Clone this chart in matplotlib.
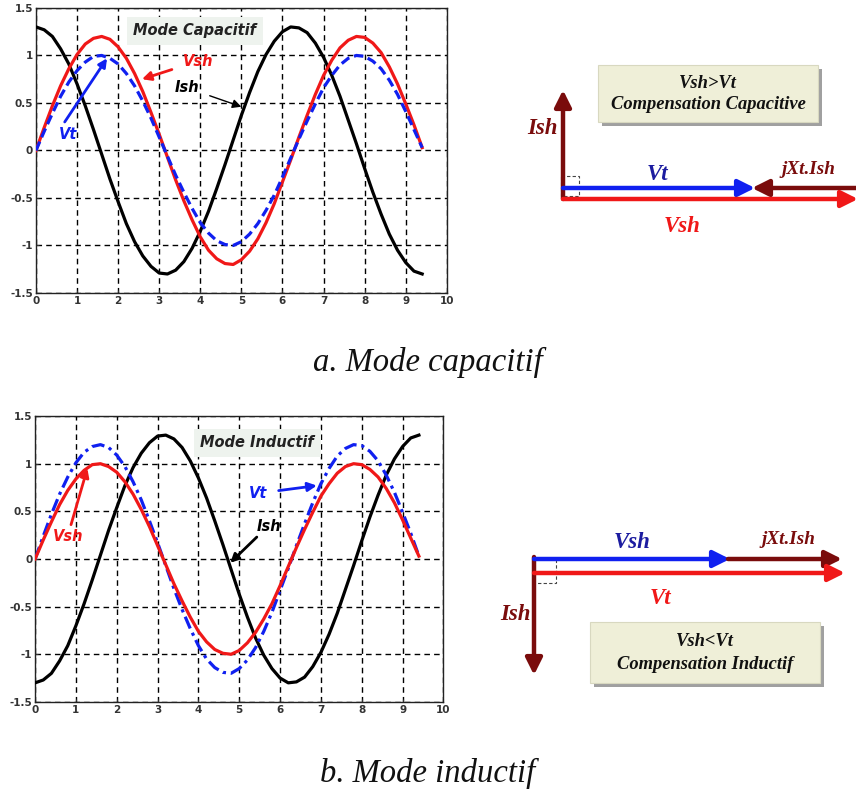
import matplotlib
matplotlib.use("Agg")
import matplotlib.pyplot as plt
from matplotlib.patches import Rectangle

# ---------------- data ----------------
t = [0.0, 0.2, 0.4, 0.6, 0.8, 1.0, 1.2, 1.4,
     1.6, 1.8, 2.0, 2.2, 2.4, 2.6, 2.8, 3.0,
     3.2, 3.4, 3.6, 3.8, 4.0, 4.2, 4.4, 4.6,
     4.8, 5.0, 5.2, 5.4, 5.6, 5.8, 6.0, 6.2,
     6.4, 6.6, 6.8, 7.0, 7.2, 7.4, 7.6, 7.8,
     8.0, 8.2, 8.4, 8.6, 8.8, 9.0, 9.2, 9.4]

# a. Mode capacitif
vsh_cap = [0, 0.24, 0.47, 0.68, 0.86, 1.01, 1.12, 1.18,
           1.2, 1.17, 1.09, 0.97, 0.81, 0.62, 0.40, 0.17,
           -0.07, -0.31, -0.53, -0.73, -0.91, -1.05, -1.14, -1.19,
           -1.2, -1.15, -1.06, -0.93, -0.76, -0.56, -0.33, -0.10,
           0.14, 0.37, 0.59, 0.79, 0.95, 1.08, 1.16, 1.2,
           1.19, 1.13, 1.03, 0.88, 0.70, 0.49, 0.27, 0.03]
vt_cap = [0, 0.20, 0.39, 0.57, 0.72, 0.84, 0.93, 0.99,
          1.0, 0.97, 0.91, 0.81, 0.68, 0.52, 0.34, 0.14,
          -0.06, -0.26, -0.44, -0.61, -0.76, -0.87, -0.95, -0.99,
          -1.0, -0.96, -0.88, -0.77, -0.63, -0.47, -0.28, -0.08,
          0.12, 0.31, 0.49, 0.66, 0.79, 0.90, 0.97, 1.0,
          0.99, 0.94, 0.86, 0.74, 0.59, 0.41, 0.22, 0.03]
ish_cap = [1.3, 1.27, 1.20, 1.07, 0.91, 0.70, 0.47, 0.22,
           -0.04, -0.30, -0.54, -0.77, -0.96, -1.11, -1.22, -1.29,
           -1.30, -1.26, -1.17, -1.03, -0.85, -0.64, -0.40, -0.15,
           0.11, 0.37, 0.61, 0.83, 1.01, 1.15, 1.25, 1.30,
           1.29, 1.24, 1.13, 0.98, 0.79, 0.57, 0.32, 0.07,
           -0.19, -0.44, -0.67, -0.88, -1.05, -1.18, -1.27, -1.30]

# b. Mode inductif
vt_ind = [0, 0.24, 0.47, 0.68, 0.86, 1.01, 1.12, 1.18,
          1.2, 1.17, 1.09, 0.97, 0.81, 0.62, 0.40, 0.17,
          -0.07, -0.31, -0.53, -0.73, -0.91, -1.05, -1.14, -1.19,
          -1.2, -1.15, -1.06, -0.93, -0.76, -0.56, -0.33, -0.10,
          0.14, 0.37, 0.59, 0.79, 0.95, 1.08, 1.16, 1.2,
          1.19, 1.13, 1.03, 0.88, 0.70, 0.49, 0.27, 0.03]
vsh_ind = [0, 0.20, 0.39, 0.57, 0.72, 0.84, 0.93, 0.99,
           1.0, 0.97, 0.91, 0.81, 0.68, 0.52, 0.34, 0.14,
           -0.06, -0.26, -0.44, -0.61, -0.76, -0.87, -0.95, -0.99,
           -1.0, -0.96, -0.88, -0.77, -0.63, -0.47, -0.28, -0.08,
           0.12, 0.31, 0.49, 0.66, 0.79, 0.90, 0.97, 1.0,
           0.99, 0.94, 0.86, 0.74, 0.59, 0.41, 0.22, 0.03]
ish_ind = [-1.3, -1.27, -1.20, -1.07, -0.91, -0.70, -0.47, -0.22,
           0.04, 0.30, 0.54, 0.77, 0.96, 1.11, 1.22, 1.29,
           1.30, 1.26, 1.17, 1.03, 0.85, 0.64, 0.40, 0.15,
           -0.11, -0.37, -0.61, -0.83, -1.01, -1.15, -1.25, -1.30,
           -1.29, -1.24, -1.13, -0.98, -0.79, -0.57, -0.32, -0.07,
           0.19, 0.44, 0.67, 0.88, 1.05, 1.18, 1.27, 1.30]

x_ticks = [0, 1, 2, 3, 4, 5, 6, 7, 8, 9, 10]
y_ticks = [-1.5, -1, -0.5, 0, 0.5, 1, 1.5]
y_ticklabels = ["-1.5", "-1", "-0.5", "0", "0.5", "1", "1.5"]

RED = "#f01818"
BLUE = "#1020f0"
DKRED = "#7a0c0c"
DKBLUE = "#1c1ca0"

fig = plt.figure(figsize=(8.56, 7.94), dpi=100)


def style_axes(ax):
    ax.set_xlim(0, 10)
    ax.set_ylim(-1.5, 1.5)
    ax.set_xticks(x_ticks)
    ax.set_yticks(y_ticks)
    ax.set_yticklabels(y_ticklabels)
    ax.tick_params(length=2, direction="in", labelsize=7.5, pad=2, colors="#333333")
    for lab in ax.get_xticklabels() + ax.get_yticklabels():
        lab.set_fontweight("bold")
    ax.grid(True, color="black", linestyle=(0, (4, 3)), linewidth=1.0)
    for s in ax.spines.values():
        s.set_color("#222222")
        s.set_linewidth(1.0)


def note(ax, txt, xy, xytext, color, lw=2.0):
    ax.annotate(txt, xy=xy, xytext=xytext, color=color, fontsize=10.5,
                fontweight="bold", fontstyle="italic", ha="center", va="center",
                arrowprops=dict(arrowstyle="-|>,head_length=0.5,head_width=0.25",
                                color=color, lw=lw, shrinkA=6, shrinkB=0))


# ---------------- top axes ----------------
ax1 = fig.add_axes([0.042, 0.631, 0.480, 0.359])
style_axes(ax1)
ax1.plot(t, ish_cap, color="black", lw=2.3, zorder=3)
ax1.plot(t, vsh_cap, color=RED, lw=2.3, zorder=4)
ax1.plot(t, vt_cap, color=BLUE, lw=2.3, linestyle=(0, (3, 1.5)), zorder=5)
ax1.text(3.87, 1.26, "Mode Capacitif", fontsize=10.5, fontweight="bold", fontstyle="italic",
         ha="center", va="center", color="#222222", zorder=6,
         bbox=dict(boxstyle="square,pad=0.45", fc="#eef3ee", ec="none"))
note(ax1, "Vsh", (2.58, 0.75), (3.94, 0.94), RED)
note(ax1, "Ish", (5.0, 0.46), (3.67, 0.66), "black", lw=1.0)
ax1.annotate("", xy=(1.73, 0.97), xytext=(0.7, 0.30),
             arrowprops=dict(arrowstyle="-|>,head_length=0.5,head_width=0.25",
                             color=BLUE, lw=2.0, shrinkA=0, shrinkB=0))
ax1.text(0.78, 0.17, "Vt", color=BLUE, fontsize=10.5, fontweight="bold",
         fontstyle="italic", ha="center", va="center")

# ---------------- bottom axes ----------------
ax2 = fig.add_axes([0.041, 0.116, 0.477, 0.360])
style_axes(ax2)
ax2.plot(t, ish_ind, color="black", lw=2.3, zorder=3)
ax2.plot(t, vt_ind, color=BLUE, lw=2.3, linestyle=(0, (4, 1.5, 1, 1.5)), zorder=4)
ax2.plot(t, vsh_ind, color=RED, lw=2.3, zorder=5)
ax2.text(5.44, 1.22, "Mode Inductif", fontsize=10.5, fontweight="bold", fontstyle="italic",
         ha="center", va="center", color="#222222", zorder=6,
         bbox=dict(boxstyle="square,pad=0.45", fc="#eef3ee", ec="none"))
ax2.annotate("", xy=(1.28, 0.95), xytext=(0.88, 0.36),
             arrowprops=dict(arrowstyle="-|>,head_length=0.5,head_width=0.25",
                             color=RED, lw=2.0, shrinkA=0, shrinkB=0))
ax2.text(0.82, 0.24, "Vsh", color=RED, fontsize=10.5, fontweight="bold",
         fontstyle="italic", ha="center", va="center")
note(ax2, "Vt", (6.9, 0.77), (5.47, 0.69), BLUE)
ax2.annotate("", xy=(4.78, -0.04), xytext=(5.43, 0.23),
             arrowprops=dict(arrowstyle="-|>,head_length=0.5,head_width=0.25",
                             color="black", lw=2.0, shrinkA=0, shrinkB=0))
ax2.text(5.72, 0.34, "Ish", color="black", fontsize=10.5, fontweight="bold",
         fontstyle="italic", ha="center", va="center")

# ---------------- overlay for phasor diagrams & captions (pixel coords) ----------------
ov = fig.add_axes([0, 0, 1, 1])
ov.set_xlim(0, 856)
ov.set_ylim(794, 0)
ov.axis("off")
ov.patch.set_alpha(0)

SERIF = "Liberation Serif"


def arrow(p0, p1, color, lw=3.2, hl=1.0, hw=0.5):
    ov.annotate("", xy=p1, xytext=p0, annotation_clip=False,
                arrowprops=dict(arrowstyle=f"-|>,head_length={hl},head_width={hw}",
                                color=color, lw=lw, shrinkA=0, shrinkB=0))


def ptext(x, y, s, color, size=16.5):
    ov.text(x, y, s, color=color, fontsize=size, fontweight="bold", fontstyle="italic",
            family=SERIF, ha="center", va="center")


def box(x0, y0, x1, y1, lines):
    ov.add_patch(Rectangle((x0 + 4, y0 + 4), x1 - x0, y1 - y0, fc="#a0a0a0", ec="none"))
    ov.add_patch(Rectangle((x0, y0), x1 - x0, y1 - y0, fc="#efefd8", ec="#d8d8c0", lw=0.8))
    cx = (x0 + x1) / 2
    h = (y1 - y0)
    ov.text(cx, y0 + h * 0.32, lines[0], fontsize=13.3, fontweight="bold",
            fontstyle="italic", family=SERIF, ha="center", va="center", color="#111111")
    ov.text(cx, y0 + h * 0.70, lines[1], fontsize=13.3, fontweight="bold",
            fontstyle="italic", family=SERIF, ha="center", va="center", color="#111111")


# top phasor (capacitive)
ov.add_patch(Rectangle((561, 176), 18, 20, fill=False, ec="#444444", lw=0.8, ls=(0, (3, 2))))
arrow((563, 199), (563, 90), DKRED)
arrow((563, 188), (755, 188), BLUE)
arrow((856, 188), (752, 188), DKRED)
arrow((563, 199), (858, 199), RED)
ptext(542, 129, "Ish", DKRED)
ptext(657, 175, "Vt", DKBLUE)
ptext(808, 170, "jXt.Ish", DKRED, 13.8)
ptext(682, 226, "Vsh", RED)
box(598, 65, 818, 122, ["Vsh>Vt", "Compensation Capacitive"])

# bottom phasor (inductive)
ov.add_patch(Rectangle((534, 559), 22, 24, fill=False, ec="#444444", lw=0.8, ls=(0, (3, 2))))
arrow((534, 557), (534, 675), DKRED)
arrow((534, 559), (730, 559), BLUE)
arrow((728, 559), (842, 559), DKRED)
arrow((534, 573), (845, 573), RED)
ptext(515, 614, "Ish", DKRED)
ptext(632, 543, "Vsh", DKBLUE)
ptext(788, 540, "jXt.Ish", DKRED, 13.8)
ptext(660, 599, "Vt", RED)
box(590, 622, 820, 683, ["Vsh<Vt", "Compensation Inductif"])

# captions
ov.text(428, 362, "a. Mode capacitif", fontsize=23.5, fontstyle="italic", family=SERIF,
        ha="center", va="center", color="#111111")
ov.text(428, 773, "b. Mode inductif", fontsize=23.5, fontstyle="italic", family=SERIF,
        ha="center", va="center", color="#111111")

fig.savefig("out.png", dpi=100)
